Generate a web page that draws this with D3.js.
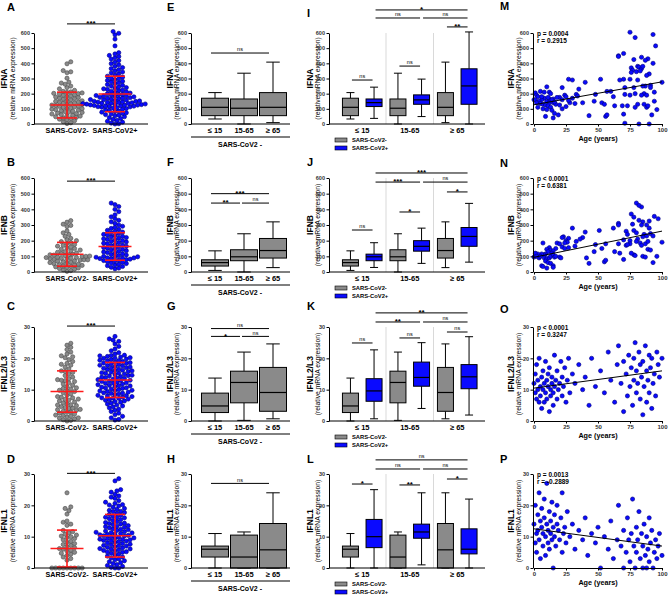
<!DOCTYPE html>
<html><head><meta charset="utf-8">
<script src="https://cdn.jsdelivr.net/npm/d3@7"></script>
<style>body{margin:0;background:#fff}svg{font-family:"Liberation Sans",Arial,sans-serif}</style>
</head><body><script>
// ---------------- DATA ----------------
const genes = ["IFNA", "IFNB", "IFNL2/L3", "IFNL1"];
const yMaxes = [600, 600, 30, 30];
const yTicksBig = [0, 100, 200, 300, 400, 500, 600];
const yTicksSmall = [0, 10, 20, 30];
const groupLabels = ["SARS-CoV2-", "SARS-CoV2+"];
const ageGroups = ["≤ 15", "15-65", "≥ 65"];
const ageTicks = [0, 25, 50, 75, 100];
const panelLetters = [["A","E","I","M"],["B","F","J","N"],["C","G","K","O"],["D","H","L","P"]];

// dot plots (A-D)
const dotNegIFNA = [410,397,352,344,338,302,276,270,262,250,240,232,222,215,212,208,205,202,200,197,193,190,186,182,178,175,171,168,164,160,156,153,149,146,143,140,137,134,131,128,125,122,119,116,113,110,107,104,101,98,95,92,88,85,82,79,76,72,69,66,62,58,55,52,48,44,40,36,32,28,22,15,8,3];
const dotPosIFNA = [610,598,588,560,515,470,462,452,445,436,428,418,408,398,390,380,372,365,358,350,343,336,330,322,315,309,303,298,292,287,282,278,272,266,260,255,250,245,240,236,232,228,224,220,216,212,208,204,200,197,194,191,188,185,182,179,176,173,170,167,164,161,158,155,152,149,146,144,142,140,138,136,134,132,130,128,126,124,122,120,118,116,114,111,108,105,102,98,94,90,86,82,78,74,70,66,62,58,54,48,42,36,30,24,18,12,6,2,0,186,172,160,150,143,137,131,125,119,113];
const dotNegIFNB = [328,318,305,297,290,262,250,240,228,215,207,200,194,188,182,176,170,165,160,155,150,145,140,135,130,126,122,118,114,111,108,105,102,99,96,93,90,87,84,81,78,75,72,69,66,63,60,57,54,51,48,45,42,39,36,33,30,26,22,18,14,9,4,92,85,78,100,110];
const dotPosIFNB = [440,430,418,400,385,365,352,340,330,320,310,300,292,285,278,272,266,260,255,250,245,240,236,232,228,224,220,216,212,208,204,200,196,192,188,184,180,176,172,168,164,160,156,152,148,144,140,136,132,128,124,120,116,112,108,104,100,97,94,91,88,85,82,79,76,73,70,66,62,58,54,50,45,40,35,30,25,20,90,86,95];
const dotNegIFNL23 = [24.8,24.2,23.5,22.8,22,21.4,20.8,20.2,19.6,19,18.4,17.8,17.2,16.6,16,15.5,15,14.5,14,13.5,13,12.6,12.2,11.8,11.4,11,10.6,10.2,9.8,9.4,9,8.6,8.2,7.8,7.4,7,6.7,6.4,6.1,5.8,5.5,5.2,4.9,4.6,4.3,4,3.7,3.4,3.1,2.8,2.5,2.2,1.9,1.6,1.3,1,0.7,0.4,0.2,0,12.9,9.6,6.9,4.1,2.9,1.8,0.9,3.6,5.1,7.6,10.4,13.2,15.8,18.1,20.5];
const dotPosIFNL23 = [27,26.2,25.8,25.4,24.6,23.8,23,22.4,21.8,21.4,21,20.8,20.6,20.4,20.2,20,19.8,19.6,19.4,19.2,19,18.8,18.6,18.4,18.2,18,17.8,17.6,17.4,17.2,17,16.8,16.6,16.4,16.2,16,15.8,15.6,15.4,15.2,15,14.8,14.6,14.4,14.2,14,13.8,13.6,13.4,13.2,13,12.8,12.6,12.4,12.2,12,11.8,11.6,11.4,11.2,11,10.8,10.6,10.4,10.2,10,9.8,9.6,9.4,9.2,9,8.8,8.6,8.4,8.2,8,7.8,7.6,7.4,7.2,7,6.8,6.6,6.4,6.2,6,5.7,5.4,5.1,4.8,4.5,4.2,3.8,3.4,3,2.5,2,1.5,1,0.5,0.3,20.9,20.1,19.3,18.5,17.7,16.9,16.1,15.3,14.5,13.7,12.9,12.1,11.3,10.5,9.7,8.9,8.1,7.3];
const dotNegIFNL1 = [24,19.5,19,18.3,17.2,15,14.6,14,13.6,12,11.6,11.2,10.8,10.5,10.2,10,9.7,9.4,9,8.5,8.2,7.8,7.5,7.2,6.8,6.5,6.2,6,5.7,5.4,5,4.7,4.4,4,3.5,3,2.5,0,0,0,0,0,0,0,0,0];
const dotPosIFNL1 = [28.5,27.8,25,24.6,24.2,23.5,23,22.6,22.2,21.5,21,20.6,20.2,19.8,19.4,19,18.7,18.4,18,17.7,17.4,17.1,16.8,16.5,16.2,16,15.7,15.4,15.1,14.8,14.5,14.2,14,13.8,13.5,13.2,13,12.8,12.5,12.2,12,11.8,11.6,11.4,11.2,11,10.8,10.6,10.4,10.2,10,9.8,9.6,9.4,9.2,9,8.8,8.6,8.4,8.2,8,7.8,7.6,7.4,7.2,7,6.8,6.6,6.4,6.2,6,5.8,5.6,5.4,5.2,5,4.7,4.4,4.1,3.8,3.5,3.2,2.9,2.6,2.3,2,1.7,1.4,1.1,0.8,0.5,0.2,0,0,9.1,9.5,8.7,10.3,10.7,11.3,12.3,13.3,14.3,16.1,18.1,20.1,7.1,6.1,5.1];
const dotNeg = [dotNegIFNA, dotNegIFNB, dotNegIFNL23, dotNegIFNL1];
const dotPos = [dotPosIFNA, dotPosIFNB, dotPosIFNL23, dotPosIFNL1];
// mean, SD shown as red bars [neg, pos]
const meanSD = [[[125,85],[198,117]],[[113,76],[163,88]],[[9.4,6.6],[13.1,5.6]],[[6.2,5.9],[10.3,6.8]]];
const dotSigLevel = [660, 580, 30.3, 30.2];

// box plots: [min, q1, median, q3, max] for ≤15, 15-65, ≥65
const boxNegIFNA = [[33,55,110,170,207],[0,55,104,165,335],[9,55,110,207,408]];
const boxNegIFNB = [[10,38,60,78,135],[0,72,97,142,244],[28,89,137,214,320]];
const boxNegIFNL23 = [[0,2.7,4.8,8.9,13.7],[0.2,5.8,12.3,15.9,22],[0.7,3.1,9.1,17.1,24.6]];
const boxNegIFNL1 = [[0,3.5,6,7,11],[0,0,3.5,10.5,11.5],[0,0,5.8,14.2,24]];
const boxPosIFNA = [[37,115,141,165,243],[49,130,159,192,296],[0,130,251,364,607]];
const boxPosIFNB = [[29,72,97,114,187],[55,133,164,200,280],[63,164,227,284,438]];
const boxPosIFNL23 = [[0.7,6.3,9.6,13.5,22.7],[4,11.1,13.9,18.8,25],[1.9,10.3,14.1,18,26.9]];
const boxPosIFNL1 = [[0,6.5,10,15.5,25],[1,9.5,11.5,14,24],[0,4.5,6,12.5,22]];
const boxNeg = [boxNegIFNA, boxNegIFNB, boxNegIFNL23, boxNegIFNL1];
const boxPos = [boxPosIFNA, boxPosIFNB, boxPosIFNL23, boxPosIFNL1];

// significance brackets: [from, to, level (data units), label]
const sigAge = [
  [[0,2,468,"ns"]],
  [[0,2,500,"***"],[0,1,440,"**"],[1,2,440,"ns"]],
  [[0,2,29.5,"ns"],[0,1,27,"*"],[1,2,27,"ns"]],
  [[0,2,27,"ns"]]
];
const sigGroup = [
  [["b0","b2",752,"*"],["b0","b1",699,"ns"],["b1","b2",699,"ns"],["g2","b2",640,"**"],["g1","b1",382,"ns"],["g0","b0",290,"ns"]],
  [["b0","b2",632,"***"],["b0","b1",574,"***"],["b1","b2",574,"ns"],["g2","b2",511,"*"],["g1","b1",383,"*"],["g0","b0",268,"ns"]],
  [["b0","b2",34.5,"**"],["b0","b1",31.6,"**"],["b1","b2",31.6,"ns"],["g2","b2",28.4,"ns"],["g1","b1",26.5,"ns"],["g0","b0",24.9,"ns"]],
  [["b0","b2",34.5,"ns"],["b0","b1",31.6,"ns"],["b1","b2",31.6,"ns"],["g2","b2",28.4,"*"],["g1","b1",26.5,"**"],["g0","b0",26.8,"*"]]
];

// age correlation scatter [age, value]
const scatterIFNA = [[75,605],[93,590],[79,570],[95,515],[70,465],[66,450],[66,445],[84,440],[78,425],[89,430],[87,420],[93,400],[81,380],[76,370],[82,375],[84,365],[85,380],[77,355],[80,345],[76,340],[83,350],[90,330],[88,320],[75,295],[67,290],[70,295],[52,295],[27,295],[30,290],[40,275],[100,275],[81,290],[91,255],[87,250],[71,240],[91,240],[57,215],[60,215],[48,195],[71,195],[75,190],[86,200],[84,190],[94,210],[62,180],[35,230],[33,195],[34,185],[22,240],[10,245],[5,215],[1,205],[2,190],[0,160],[8,210],[12,210],[13,200],[24,190],[25,180],[20,175],[15,165],[18,175],[8,170],[6,160],[10,150],[12,140],[15,140],[4,150],[5,135],[7,130],[9,125],[11,120],[13,110],[3,110],[7,100],[10,95],[14,90],[16,70],[9,50],[15,40],[19,60],[22,100],[25,115],[28,140],[30,170],[32,135],[27,155],[38,140],[43,55],[47,150],[53,140],[55,130],[56,50],[57,60],[63,120],[69,120],[70,65],[71,5],[82,0],[90,0],[73,120],[79,110],[81,130],[86,130],[88,110],[89,120],[92,60],[94,150],[96,95],[78,240],[79,200],[85,250],[88,190],[17,130],[20,125],[22,160],[12,165],[14,160],[11,175],[3,180],[6,180],[1,160],[2,140],[16,145]];
const scatterIFNB = [[80,440],[84,415],[82,425],[76,370],[78,350],[94,355],[97,340],[90,325],[85,320],[82,330],[77,305],[66,310],[66,300],[84,300],[88,300],[30,280],[62,280],[51,265],[40,255],[72,260],[78,265],[80,250],[73,240],[90,280],[91,245],[86,240],[88,230],[93,230],[85,225],[81,210],[75,200],[80,195],[83,185],[70,205],[66,180],[56,180],[38,220],[36,210],[33,195],[27,215],[25,200],[23,225],[22,220],[26,190],[24,185],[18,185],[20,180],[7,185],[32,165],[22,160],[24,150],[27,155],[17,150],[12,155],[10,145],[13,140],[11,130],[15,135],[14,120],[9,115],[8,110],[6,115],[3,115],[1,120],[0,95],[2,100],[4,90],[5,100],[8,90],[10,85],[12,90],[13,100],[15,110],[16,95],[17,100],[20,95],[21,90],[9,70],[11,60],[13,55],[6,40],[7,35],[10,25],[15,40],[15,30],[41,90],[43,55],[47,130],[48,175],[53,150],[55,65],[56,75],[63,130],[67,120],[70,80],[72,170],[75,180],[78,110],[79,105],[85,100],[87,95],[89,145],[91,140],[93,60],[96,100],[100,190],[87,180],[84,170],[76,120],[73,175],[89,195]];
const scatterIFNL23 = [[0,12],[1,9],[1,15],[2,7],[2,18],[3,10],[3,13],[4,6],[4,20],[5,11],[5,8],[6,14],[6,4],[7,16],[7,10],[8,12],[8,6],[9,19],[9,9],[10,13],[10,7],[11,15],[11,11],[12,3],[12,17],[13,10],[13,8],[14,14],[14,12],[15,5],[15,9],[16,21],[16,11],[17,13],[18,7],[18,16],[19,10],[20,12],[21,19],[22,8],[22,14],[23,11],[24,17],[25,6],[26,13],[27,20],[28,9],[30,15],[32,12],[35,18],[38,10],[40,14],[43,5],[45,20],[48,11],[52,16],[55,9],[58,22],[60,13],[63,6],[65,18],[66,24],[68,12],[70,3],[70,19],[72,15],[73,8],[74,21],[75,11],[76,17],[77,5],[78,20],[78,13],[79,25],[80,9],[80,16],[81,12],[82,22],[83,7],[83,18],[84,14],[85,2],[85,19],[86,11],[87,24],[88,16],[88,6],[89,13],[90,21],[90,9],[91,17],[92,4],[92,20],[93,12],[94,15],[95,8],[96,22],[97,18],[98,14],[100,20]];
const scatterIFNL1 = [[0,14],[1,8],[1,20],[2,11],[2,5],[3,17],[3,12],[4,24],[4,9],[5,15],[5,3],[6,13],[6,19],[7,7],[7,11],[8,22],[8,16],[9,10],[9,4],[10,14],[10,27],[11,12],[11,8],[12,18],[12,6],[13,15],[13,11],[14,21],[14,9],[15,13],[15,0],[16,17],[16,10],[17,7],[18,14],[18,20],[19,12],[20,9],[21,16],[22,5],[22,24],[23,11],[24,13],[25,8],[26,18],[28,10],[30,14],[32,6],[35,12],[38,9],[40,16],[42,4],[45,11],[48,8],[50,13],[52,0],[55,10],[58,6],[60,15],[62,3],[65,9],[66,20],[68,7],[70,0],[70,12],[72,5],[73,16],[74,9],[75,2],[76,11],[77,22],[78,7],[79,0],[80,13],[80,5],[81,9],[82,18],[83,3],[84,11],[85,0],[85,7],[86,14],[87,4],[88,10],[88,0],[89,6],[90,16],[90,2],[91,8],[92,12],[93,0],[94,5],[95,9],[96,3],[97,7],[98,11],[100,4]];
const scatters = [scatterIFNA, scatterIFNB, scatterIFNL23, scatterIFNL1];
// regression line [intercept, slope]
const regLines = [[127,1.51],[94,1.67],[10.5,0.055],[12.5,-0.055]];
const statP = ["p = 0.0004", "p < 0.0001", "p < 0.0001", "p = 0.0013"];
const statR = ["r = 0.2915", "r = 0.6381", "r = 0.3247", "r = -0.2889"];

// ---------------- LAYOUT / STYLE ----------------
const W = 669, H = 598;
const rowTop = [33, 178, 327, 474], rowBot = [124, 272, 421, 568];
const letterX = [7, 167, 307, 500];
const letterY = [[11,11,17,10],[166,166,166,167],[310,310,310,313],[463,463,463,463]];
const colAxisX = [34, 191, 329, 533];
const colAxisEnd = [148, 290, 485, 662];
const geneLabX = [4, 170, 310, 511], subLabX = [12.5, 177, 318, 518.5];
const GRAY = "#8a8a8a", BLUE = "#0a0aff", RED = "#ff1a1a";

const svg = d3.select("body").append("svg").attr("width", W).attr("height", H);

function yAxis(g, y, x, ticks) {
  const a = g.append("g").attr("transform", `translate(${x},0)`)
    .call(d3.axisLeft(y).tickValues(ticks).tickSize(2.5).tickSizeOuter(0).tickPadding(1.5));
  a.attr("font-family", null).attr("font-size", null);
  a.select(".domain").attr("stroke", "#000").attr("stroke-width", 1);
  a.selectAll(".tick line").attr("stroke", "#000");
  a.selectAll(".tick text").attr("font-size", 5.5).attr("font-weight", "bold").attr("fill", "#333");
}
function yLabel(c, r) {
  const yc = (rowTop[r] + rowBot[r]) / 2;
  svg.append("text").attr("transform", `translate(${geneLabX[c]},${yc}) rotate(-90)`).attr("dy", "0.35em")
    .attr("text-anchor", "middle").attr("font-weight", "bold").attr("font-size", 8.5).text(genes[r]);
  svg.append("text").attr("transform", `translate(${subLabX[c]},${yc}) rotate(-90)`).attr("dy", "0.35em")
    .attr("text-anchor", "middle").attr("font-size", 6.8).text("(relative mRNA expression)");
}
function xLine(c, y0) {
  svg.append("line").attr("x1", colAxisX[c]).attr("x2", colAxisEnd[c]).attr("y1", y0).attr("y2", y0)
    .attr("stroke", "#000").attr("stroke-width", 1);
}
function bracket(x1, x2, y, label) {
  svg.append("line").attr("x1", x1).attr("x2", x2).attr("y1", y).attr("y2", y).attr("stroke", "#000").attr("stroke-width", 1);
  const star = label.includes("*");
  svg.append("text").attr("x", (x1 + x2) / 2).attr("y", star ? y + 2.2 : y - 1.6).attr("text-anchor", "middle")
    .attr("font-weight", star ? "bold" : "normal").attr("font-size", star ? 8 : 5.5).text(label);
}
// deterministic beeswarm layout
function swarm(vals, cx, y, r) {
  const pts = vals.map(v => ({ v, y: y(v) })).sort((a, b) => b.y - a.y);
  const placed = [];
  const minD = 2 * r * 0.9, step = minD / 2;
  for (const p of pts) {
    for (let k = 0; k < 400; k++) {
      const off = k === 0 ? 0 : (k % 2 ? 1 : -1) * Math.ceil(k / 2) * step;
      const x = cx + off;
      if (!placed.some(q => (q.x - x) ** 2 + (q.y - p.y) ** 2 < minD * minD)) { p.x = x; break; }
    }
    placed.push(p);
  }
  return placed;
}
function drawBox(x, w, y, d, fill) {
  const [mn, q1, md, q3, mx] = d;
  const cw = w * 0.5;
  const g = svg.append("g").attr("stroke", "#000").attr("stroke-width", 1).attr("fill", "none");
  g.append("line").attr("x1", x).attr("x2", x).attr("y1", y(mx)).attr("y2", y(q3));
  g.append("line").attr("x1", x).attr("x2", x).attr("y1", y(q1)).attr("y2", y(mn));
  g.append("line").attr("x1", x - cw / 2).attr("x2", x + cw / 2).attr("y1", y(mx)).attr("y2", y(mx));
  g.append("line").attr("x1", x - cw / 2).attr("x2", x + cw / 2).attr("y1", y(mn)).attr("y2", y(mn));
  g.append("rect").attr("x", x - w / 2).attr("width", w).attr("y", y(q3)).attr("height", Math.max(0.5, y(q1) - y(q3))).attr("fill", fill);
  g.append("line").attr("x1", x - w / 2).attr("x2", x + w / 2).attr("y1", y(md)).attr("y2", y(md)).attr("stroke-width", 1.2);
}

for (let r = 0; r < 4; r++) {
  const y = d3.scaleLinear().domain([0, yMaxes[r]]).range([rowBot[r], rowTop[r]]);
  const ticks = yMaxes[r] === 600 ? yTicksBig : yTicksSmall;
  const y0 = rowBot[r];
  for (let c = 0; c < 4; c++) {
    svg.append("text").attr("x", letterX[c]).attr("y", letterY[r][c]).attr("font-weight", "bold")
      .attr("font-size", 11).text(panelLetters[r][c]);
    yLabel(c, r);
  }

  // ---- column 1: dot plot ----
  {
    const xs = d3.scalePoint().domain(groupLabels).range([67, 115]);
    const sets = [dotNeg[r], dotPos[r]];
    sets.forEach((vals, i) => {
      const pts = swarm(vals, xs(groupLabels[i]), y, 2.1);
      svg.append("g").selectAll("circle").data(pts).join("circle")
        .attr("cx", d => d.x).attr("cy", d => d.y).attr("r", 2.1)
        .attr("fill", i ? BLUE : GRAY).attr("stroke", i ? "#00007a" : "#4a4a4a").attr("stroke-width", 0.6);
    });
    meanSD[r].forEach(([m, sd], i) => {
      const cx = xs(groupLabels[i]);
      const g = svg.append("g").attr("stroke", RED).attr("stroke-width", 1.6);
      g.append("line").attr("x1", cx).attr("x2", cx).attr("y1", y(m + sd)).attr("y2", y(Math.max(0, m - sd)));
      g.append("line").attr("x1", cx - 16.5).attr("x2", cx + 16.5).attr("y1", y(m)).attr("y2", y(m));
      g.append("line").attr("x1", cx - 10).attr("x2", cx + 10).attr("y1", y(m + sd)).attr("y2", y(m + sd));
      g.append("line").attr("x1", cx - 10).attr("x2", cx + 10).attr("y1", y(Math.max(0, m - sd))).attr("y2", y(Math.max(0, m - sd)));
    });
    xLine(0, y0);
    yAxis(svg, y, colAxisX[0], ticks);
    groupLabels.forEach(l => svg.append("text").attr("x", xs(l)).attr("y", y0 + 8.5).attr("text-anchor", "middle")
      .attr("font-weight", "bold").attr("font-size", 7.2).text(l));
    bracket(xs(groupLabels[0]), xs(groupLabels[1]), y(dotSigLevel[r]), "***");
  }

  // ---- column 2: negatives by age ----
  {
    const xs = d3.scalePoint().domain(ageGroups).range([215, 273]);
    boxNeg[r].forEach((d, i) => drawBox(xs(ageGroups[i]), 27, y, d, GRAY));
    xLine(1, y0);
    yAxis(svg, y, colAxisX[1], ticks);
    ageGroups.forEach(l => svg.append("text").attr("x", xs(l)).attr("y", y0 + 8.5).attr("text-anchor", "middle")
      .attr("font-weight", "bold").attr("font-size", 7.5).text(l));
    svg.append("line").attr("x1", colAxisX[1]).attr("x2", colAxisEnd[1]).attr("y1", y0 + 13).attr("y2", y0 + 13).attr("stroke", "#000");
    svg.append("text").attr("x", 240).attr("y", y0 + 22.5).attr("text-anchor", "middle").attr("font-weight", "bold")
      .attr("font-size", 7).text("SARS-CoV2 -");
    sigAge[r].forEach(([a, b, lv, lab]) => {
      bracket(xs(ageGroups[a]) - 4 + (a > 0 ? 2 : 0), xs(ageGroups[b]) - 4, y(lv), lab);
    });
  }

  // ---- column 3: grouped by age and infection ----
  {
    const band = d3.scaleBand().domain(ageGroups).range([338.5, 481]);
    const cx = i => band(ageGroups[i]) + band.bandwidth() / 2;
    const pos = key => cx(+key[1]) + (key[0] === "g" ? -11.8 : 11.8);
    [1, 2].forEach(i => svg.append("line").attr("x1", band(ageGroups[i])).attr("x2", band(ageGroups[i]))
      .attr("y1", rowTop[r]).attr("y2", y0).attr("stroke", "#cfcfcf").attr("stroke-width", 0.8));
    boxNeg[r].forEach((d, i) => drawBox(pos("g" + i), 16, y, d, GRAY));
    boxPos[r].forEach((d, i) => drawBox(pos("b" + i), 16, y, d, BLUE));
    xLine(2, y0);
    yAxis(svg, y, colAxisX[2], ticks);
    ageGroups.forEach((l, i) => svg.append("text").attr("x", cx(i)).attr("y", y0 + 9).attr("text-anchor", "middle")
      .attr("font-weight", "bold").attr("font-size", 7.5).text(l));
    sigGroup[r].forEach(([a, b, lv, lab]) => bracket(pos(a) + 1.5, pos(b) - 1.5, y(lv), lab));
    groupLabels.forEach((l, i) => {
      const ly = y0 + 16 + i * 8;
      svg.append("rect").attr("x", 335).attr("y", ly - 2).attr("width", 12).attr("height", 4)
        .attr("fill", i ? BLUE : GRAY).attr("stroke", "#000").attr("stroke-width", 0.6);
      svg.append("text").attr("x", 352).attr("y", ly).attr("dy", "0.35em").attr("font-weight", "bold")
        .attr("font-size", 5.8).text(l);
    });
  }

  // ---- column 4: scatter vs age ----
  {
    const x = d3.scaleLinear().domain([0, 100]).range([534, 662]);
    svg.append("g").selectAll("circle").data(scatters[r]).join("circle")
      .attr("cx", d => x(d[0])).attr("cy", d => y(d[1])).attr("r", 2.1)
      .attr("fill", BLUE).attr("stroke", "#00007a").attr("stroke-width", 0.6);
    const [b0, b1] = regLines[r];
    svg.append("line").attr("x1", x(0)).attr("x2", x(100)).attr("y1", y(b0)).attr("y2", y(b0 + b1 * 100))
      .attr("stroke", "#000").attr("stroke-width", 1);
    const ax = svg.append("g").attr("transform", `translate(0,${y0})`)
      .call(d3.axisBottom(x).tickValues(ageTicks).tickSize(2.5).tickSizeOuter(0).tickPadding(1.5));
    ax.attr("font-family", null).attr("font-size", null);
    ax.select(".domain").attr("stroke", "#000");
    ax.selectAll(".tick line").attr("stroke", "#000");
    ax.selectAll(".tick text").attr("font-size", 6).attr("font-weight", "bold").attr("fill", "#333");
    yAxis(svg, y, colAxisX[3], ticks);
    svg.append("text").attr("x", 598).attr("y", y0 + 17).attr("text-anchor", "middle").attr("font-weight", "bold")
      .attr("font-size", 7.2).text("Age (years)");
    svg.append("text").attr("x", 537).attr("y", rowTop[r] + 3).attr("font-weight", "bold").attr("font-size", 6.5).text(statP[r]);
    svg.append("text").attr("x", 537).attr("y", rowTop[r] + 10).attr("font-weight", "bold").attr("font-size", 6.5).text(statR[r]);
  }
}
</script></body></html>
